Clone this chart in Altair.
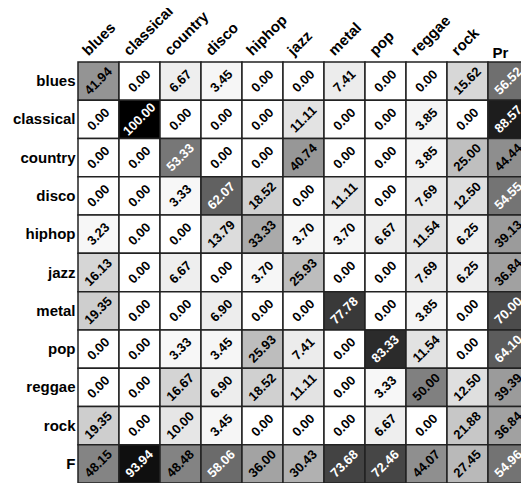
import altair as alt
import pandas as pd

rows = ["blues", "classical", "country", "disco", "hiphop", "jazz", "metal", "pop", "reggae", "rock", "F"]
cols = ["blues", "classical", "country", "disco", "hiphop", "jazz", "metal", "pop", "reggae", "rock", "Pr"]

v_blues = [41.94, 0.00, 6.67, 3.45, 0.00, 0.00, 7.41, 0.00, 0.00, 15.62, 56.52]
v_classical = [0.00, 100.00, 0.00, 0.00, 0.00, 11.11, 0.00, 0.00, 3.85, 0.00, 88.57]
v_country = [0.00, 0.00, 53.33, 0.00, 0.00, 40.74, 0.00, 0.00, 3.85, 25.00, 44.44]
v_disco = [0.00, 0.00, 3.33, 62.07, 18.52, 0.00, 11.11, 0.00, 7.69, 12.50, 54.55]
v_hiphop = [3.23, 0.00, 0.00, 13.79, 33.33, 3.70, 3.70, 6.67, 11.54, 6.25, 39.13]
v_jazz = [16.13, 0.00, 6.67, 0.00, 3.70, 25.93, 0.00, 0.00, 7.69, 6.25, 36.84]
v_metal = [19.35, 0.00, 0.00, 6.90, 0.00, 0.00, 77.78, 0.00, 3.85, 0.00, 70.00]
v_pop = [0.00, 0.00, 3.33, 3.45, 25.93, 7.41, 0.00, 83.33, 11.54, 0.00, 64.10]
v_reggae = [0.00, 0.00, 16.67, 6.90, 18.52, 11.11, 0.00, 3.33, 50.00, 12.50, 39.39]
v_rock = [19.35, 0.00, 10.00, 3.45, 0.00, 0.00, 0.00, 6.67, 0.00, 21.88, 36.84]
v_F = [48.15, 93.94, 48.48, 58.06, 36.00, 30.43, 73.68, 72.46, 44.07, 27.45, 54.96]

matrix = [v_blues, v_classical, v_country, v_disco, v_hiphop, v_jazz, v_metal,
          v_pop, v_reggae, v_rock, v_F]

records = []
for r, vals in zip(rows, matrix):
    for c, v in zip(cols, vals):
        records.append({"row": r, "col": c, "v": v})
df = pd.DataFrame(records)

FONT = "Liberation Sans"

xs = alt.Scale(domain=cols, paddingInner=0, paddingOuter=0)
ys = alt.Scale(domain=rows, paddingInner=0, paddingOuter=0)

base = alt.Chart(df)

rects = base.mark_rect(stroke="#222222", strokeWidth=1.5).encode(
    x=alt.X("col:N", scale=xs, axis=None),
    y=alt.Y("row:N", scale=ys, axis=alt.Axis(
        orient="left", title=None, ticks=False, domain=False,
        labelFont=FONT, labelFontSize=15, labelFontWeight="bold",
        labelColor="black", labelPadding=3)),
    fill=alt.Fill("v:Q", scale=alt.Scale(domain=[0, 100], range=["#ffffff", "#000000"],
                                          interpolate="rgb"), legend=None),
)

texts = base.mark_text(angle=315, font=FONT, fontSize=13, fontWeight="bold",
                       align="center", baseline="middle").encode(
    x=alt.X("col:N", scale=xs),
    y=alt.Y("row:N", scale=ys),
    text=alt.Text("v:Q", format=".2f"),
    color=alt.condition("datum.v > 50", alt.value("white"), alt.value("black")),
)

col_df = pd.DataFrame({"col": cols[:-1]})
col_labels = alt.Chart(col_df).mark_text(
    angle=315, font=FONT, fontSize=15, fontWeight="bold",
    align="left", baseline="alphabetic", dx=-8, dy=-6, color="black"
).encode(
    x=alt.X("col:N", scale=xs),
    y=alt.value(-7),
    text="col:N",
)

pr_df = pd.DataFrame({"col": [cols[-1]]})
pr_label = alt.Chart(pr_df).mark_text(
    font=FONT, fontSize=15, fontWeight="bold", align="left",
    baseline="alphabetic", dx=-16, color="black"
).encode(
    x=alt.X("col:N", scale=xs),
    y=alt.value(-4),
    text="col:N",
)

chart = alt.layer(rects, texts, col_labels, pr_label).properties(
    width=451, height=421,
    autosize=alt.AutoSizeParams(type="none"),
    padding={"left": 70, "top": 54, "right": -8, "bottom": 0},
).configure_view(stroke=None)

chart.save("out.html", embed_options={"renderer": "svg", "actions": False})
